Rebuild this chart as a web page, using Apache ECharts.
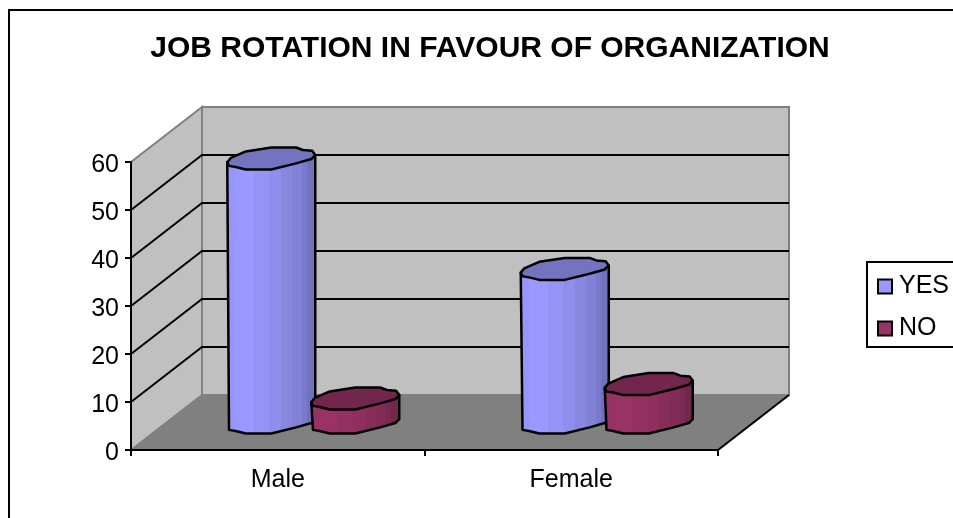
<!DOCTYPE html>
<html>
<head>
<meta charset="utf-8">
<style>
  html, body { margin: 0; padding: 0; background: #fff; }
  #chart { width: 953px; height: 518px; }
</style>
<script src="https://cdn.jsdelivr.net/npm/echarts@6/dist/echarts.min.js"></script>
</head>
<body>
<div id="chart"></div>
<script>
const chartTitle = 'JOB ROTATION IN FAVOUR OF ORGANIZATION'
const categories = ['Male', 'Female']
const yesValues = [55, 32]
const noValues = [5, 8]
const gridTicks = [10, 20, 30, 40, 50]

// fake 3d box: how far the back wall sits behind the axes
const depthX = 71
const depthY = 55
const cylHalfW = 44
const cylHalfH = 11
const cylOffset = 42

// outline of the cylinder cap, as fractions of its half width / height
const capOutline = [
  [-1, 0.34], [-0.92, -0.05], [-0.58, -0.64], [0, -1], [0.565, -1], [0.72, -0.77], [0.93, -0.7],
  [1, -0.31], [0.91, 0.05], [0.565, 0.44], [0, 1], [-0.58, 1], [-0.81, 0.77], [-0.96, 0.67]
]
// index 7 is the right shoulder, index 0 the left one
const lowerHalf = capOutline.slice(7)
const bandEdges = [0, 0.1, 0.2, 0.31, 0.48, 0.61, 0.73, 0.84, 0.9, 1]
const bandShades = [0.98, 1, 1, 0.97, 0.93, 0.88, 0.84, 0.8, 0.74]

function shade (rgb, k) {
  return `rgb(${rgb.map(v => Math.round(v * k)).join(',')})`
}

function bandFill (rgb) {
  const stops = []
  bandShades.forEach((k, i) => {
    stops.push({ offset: bandEdges[i], color: shade(rgb, k) })
    stops.push({ offset: bandEdges[i + 1], color: shade(rgb, k) })
  })
  return new echarts.graphic.LinearGradient(0, 0, 1, 0, stops)
}

function cylinderSeries (name, values, rgb, side) {
  return {
    name: name,
    type: 'custom',
    z: 5,
    clip: false,
    itemStyle: { color: shade(rgb, 1) },
    data: values.map((v, i) => [i, v]),
    renderItem: (params, api) => {
      const top = api.coord([api.value(0), api.value(1)])
      const base = api.coord([api.value(0), 0])
      const cx = top[0] + depthX / 2 + side * cylOffset
      const topY = top[1] - depthY / 2
      const baseY = base[1] - depthY / 2
      const at = (p, y) => [cx + p[0] * cylHalfW, y + p[1] * cylHalfH]
      const line = { stroke: '#000', lineWidth: 2.5, lineJoin: 'round' }
      const body = [at(capOutline[0], topY)]
        .concat(lowerHalf.slice().reverse().map(p => at(p, baseY)))
        .concat([at(capOutline[7], topY)])
      return {
        type: 'group',
        children: [
          { type: 'polygon', shape: { points: body }, style: { fill: bandFill(rgb), ...line } },
          { type: 'polygon', shape: { points: capOutline.map(p => at(p, topY)) }, style: { fill: shade(rgb, 0.75), ...line } }
        ]
      }
    }
  }
}

const chart = echarts.init(document.getElementById('chart'))
chart.setOption({
  animation: false,
  backgroundColor: '#fff',
  textStyle: { fontFamily: 'Liberation Sans' },
  title: {
    text: chartTitle,
    left: 485,
    top: 29,
    textAlign: 'center',
    textStyle: { fontFamily: 'Liberation Sans', fontSize: 30, fontWeight: 'bold', color: '#000' }
  },
  graphic: [{
    type: 'rect',
    z: -1,
    shape: { x: 9, y: 10, width: 960, height: 520 },
    style: { fill: '#fff', stroke: '#000', lineWidth: 2 }
  }],
  legend: {
    orient: 'vertical',
    left: 867,
    top: 262,
    padding: [12, 40, 6, 10],
    backgroundColor: '#fff',
    borderColor: '#000',
    borderWidth: 2,
    borderRadius: 0,
    icon: 'rect',
    itemWidth: 14,
    itemHeight: 14,
    itemGap: 17,
    itemStyle: { borderColor: '#000', borderWidth: 2 },
    textStyle: { fontFamily: 'Liberation Sans', fontSize: 25, color: '#000', padding: [0, 0, 0, 2] },
    data: ['YES', 'NO']
  },
  grid: { left: 131, top: 162, width: 587, height: 288 },
  xAxis: {
    type: 'category',
    data: categories,
    z: 3,
    axisLine: { lineStyle: { color: '#000', width: 2 } },
    axisTick: { show: true, length: 6, lineStyle: { color: '#000', width: 2 } },
    axisLabel: { color: '#000', fontSize: 25, margin: 18 }
  },
  yAxis: {
    type: 'value',
    min: 0,
    max: 60,
    interval: 10,
    z: 3,
    splitLine: { show: false },
    axisLine: { show: true, lineStyle: { color: '#000', width: 2 } },
    axisTick: { show: true, length: 6, lineStyle: { color: '#000', width: 2 } },
    axisLabel: {
      margin: 12,
      formatter: '{v|{value}}',
      rich: { v: { color: '#000', fontSize: 25, fontFamily: 'Liberation Sans', padding: [6, 0, 0, 0] } }
    }
  },
  series: [
    {
      name: 'walls',
      type: 'custom',
      z: 1,
      silent: true,
      clip: false,
      data: [[0, 0]],
      renderItem: (params, api) => {
        const halfBand = api.size([1, 0])[0] / 2
        const left = api.coord([0, 0])[0] - halfBand
        const right = api.coord([1, 0])[0] + halfBand
        const floorY = api.coord([0, 0])[1]
        const topY = api.coord([0, 60])[1]
        const back = pt => [pt[0] + depthX, pt[1] - depthY]
        const wall = { fill: '#c0c0c0', stroke: '#808080', lineWidth: 2 }
        const children = [
          { type: 'polygon', shape: { points: [[left, floorY], [left, topY], back([left, topY]), back([left, floorY])] }, style: wall },
          { type: 'polygon', shape: { points: [back([left, topY]), back([right, topY]), back([right, floorY]), back([left, floorY])] }, style: wall },
          { type: 'polygon', shape: { points: [[left, floorY], back([left, floorY]), back([right, floorY]), [right, floorY]] }, style: { fill: '#808080', stroke: '#808080', lineWidth: 1 } },
          { type: 'polyline', shape: { points: [[right, floorY], back([right, floorY])] }, style: { fill: null, stroke: '#000', lineWidth: 2 } }
        ]
        gridTicks.forEach(t => {
          const y = api.coord([0, t])[1]
          children.push({
            type: 'polyline',
            shape: { points: [[left, y], back([left, y]), back([right, y])] },
            style: { fill: null, stroke: '#000', lineWidth: 2 }
          })
        })
        return { type: 'group', children: children }
      }
    },
    cylinderSeries('YES', yesValues, [153, 153, 255], -1),
    cylinderSeries('NO', noValues, [153, 51, 102], 1)
  ]
})
</script>
</body>
</html>
